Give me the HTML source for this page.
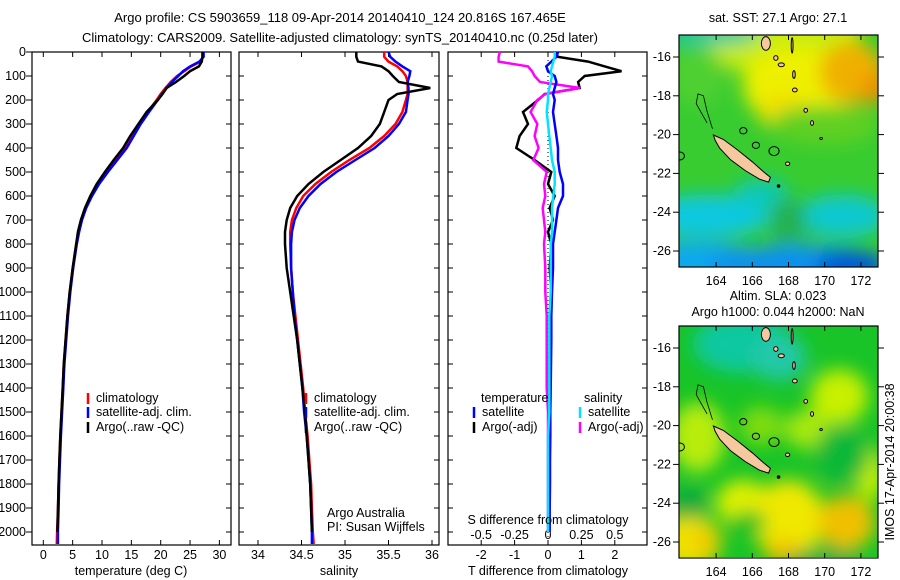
<!DOCTYPE html>
<html><head><meta charset="utf-8">
<style>
html,body{margin:0;padding:0;background:#fff;}
#root{position:relative;width:900px;height:580px;overflow:hidden;font-family:"Liberation Sans",sans-serif;}
svg text{font-family:"Liberation Sans",sans-serif;font-size:12.5px;fill:#000;}
</style></head>
<body>
<div id="root">
<svg id="fig" width="900" height="580" viewBox="0 0 900 580">
<defs>
<filter id="blur" x="-20%" y="-20%" width="140%" height="140%"><feGaussianBlur stdDeviation="9"/></filter>
<clipPath id="clipm1"><rect x="679" y="35" width="199" height="232"/></clipPath>
<clipPath id="clipm2"><rect x="679" y="326" width="199" height="231"/></clipPath>
</defs>
<text x="340" y="22" text-anchor="middle" style="font-size:13px">Argo profile: CS 5903659_118 09-Apr-2014 20140410_124 20.816S 167.465E</text>
<text x="340" y="42" text-anchor="middle" style="font-size:13px">Climatology: CARS2009. Satellite-adjusted climatology: synTS_20140410.nc (0.25d later)</text>
<g id="g1"></g>
<g id="g2"></g>
<g id="g3"></g>
<g id="m1"></g>
<g id="m2"></g>
<text x="778" y="22" text-anchor="middle">sat. SST: 27.1 Argo: 27.1</text>
<text x="778" y="300" text-anchor="middle">Altim. SLA: 0.023</text>
<text x="778" y="316" text-anchor="middle">Argo h1000: 0.044 h2000: NaN</text>
<text transform="translate(894,462) rotate(-90)" text-anchor="middle">IMOS 17-Apr-2014 20:00:38</text>
</svg>
</div>
<script>
// ---- data ----
const depths = [0,20,40,60,80,100,125,150,175,200,250,300,350,400,450,500,550,600,650,700,750,800,900,1000,1100,1200,1300,1400,1500,1600,1700,1800,1900,2000,2050];
const tempClim = [27.2,27.2,26.8,25.2,24.0,22.8,21.7,20.8,20.0,19.3,17.8,16.4,15.2,14.0,12.4,10.8,9.3,8.1,7.2,6.5,6.0,5.6,5.0,4.5,4.1,3.8,3.5,3.3,3.1,2.9,2.75,2.6,2.5,2.35,2.3];
const tempSat  = [27.3,27.3,26.6,25.0,23.8,23.0,21.9,21.0,20.2,19.5,18.0,16.6,15.4,14.2,12.6,11.0,9.5,8.3,7.3,6.6,6.1,5.7,5.1,4.6,4.2,3.9,3.6,3.4,3.2,3.0,2.85,2.7,2.6,2.48,2.48];
const tempArgo = [27.1,27.1,27.0,26.5,25.0,24.0,22.6,21.0,20.3,19.5,17.6,16.2,14.8,13.6,12.0,10.5,9.1,8.0,7.1,6.4,5.9,5.6,5.0,4.5,4.1,3.8,3.5,3.3,3.1,2.9,2.75,2.6,2.5,2.4,null];
const salClim = [35.45,35.45,35.5,35.6,35.66,35.7,35.72,35.72,35.72,35.70,35.66,35.58,35.45,35.28,35.05,34.84,34.66,34.52,34.44,34.39,34.37,34.37,34.38,34.40,34.43,34.46,34.49,34.52,34.54,34.57,34.59,34.61,34.62,34.63,34.64];
const salSat  = [35.5,35.52,35.58,35.66,35.75,35.74,35.72,35.73,35.73,35.72,35.7,35.62,35.5,35.34,35.12,34.9,34.72,34.58,34.48,34.42,34.39,34.38,34.38,34.40,34.42,34.45,34.48,34.51,34.53,34.56,34.58,34.60,34.61,34.62,34.62];
const salArgo = [35.13,35.13,35.15,35.42,35.5,35.55,35.62,35.98,35.6,35.5,35.45,35.4,35.3,35.15,34.95,34.75,34.58,34.45,34.37,34.33,34.31,34.31,34.33,34.37,34.41,34.45,34.48,34.51,34.54,34.56,34.58,34.60,34.61,34.62,null];
const tDiffArgo = [0.2,0.3,1.2,1.7,2.2,1.1,0.9,0.95,-0.1,-0.3,-0.75,-0.6,-0.85,-0.95,-0.4,0.1,0.0,0.2,0.05,0.15,0.0,0.1,0.05,0.1,0.05,0.05,0.04,0.04,0.04,0.04,0.04,0.04,0.04,0.04,null];
const tDiffSat  = [0.3,0.25,0.1,-0.05,0.0,0.2,0.25,0.2,0.15,0.2,0.15,0.2,0.25,0.3,0.3,0.35,0.45,0.45,0.3,0.25,0.2,0.15,0.15,0.12,0.1,0.1,0.09,0.08,0.07,0.07,0.06,0.06,0.05,0.05,null];
const sDiffArgo = [-0.36,-0.37,-0.37,-0.15,-0.12,-0.1,-0.06,0.24,-0.02,-0.08,-0.13,-0.08,-0.1,-0.07,-0.11,-0.01,-0.03,-0.02,-0.04,-0.03,-0.02,-0.03,-0.02,-0.02,-0.01,-0.01,-0.01,-0.01,0,0,0,0,0,0,null];
const sDiffSat  = [0.05,0.05,0.04,0.03,0.02,0.03,0.02,0.01,0.0,0.0,-0.01,0.0,0.01,0.02,0.03,0.05,0.05,0.04,0.03,0.03,0.03,0.02,0.02,0.02,0.01,0.01,0.01,0.01,0.01,0,0,0,0,0,null];
const depthTicks = [0,100,200,300,400,500,600,700,800,900,1000,1100,1200,1300,1400,1500,1600,1700,1800,1900,2000];
const tempTicks = [0,5,10,15,20,25,30];
const salTicks = [34,34.5,35,35.5,36];
const tDiffTicks = [-2,-1,0,1,2];
const sDiffTicks = [-0.5,-0.25,0,0.25,0.5];
const lonTicks = [164,166,168,170,172];
const latTicks = [-16,-18,-20,-22,-24,-26];

const NS='http://www.w3.org/2000/svg';
function mk(tag, attrs, parent){const e=document.createElementNS(NS,tag);for(const k in attrs)e.setAttribute(k,attrs[k]);parent.appendChild(e);return e;}
const yD = d => 52 + d*0.24;
const xT = v => 43.3 + v*5.87;
const xS = v => 258 + (v-34)*87;
const xTd = v => 548 + v*33.4;
const xSd = v => 548 + v*133.6;

function frame(g,x0,x1,name){
  const r=mk('rect',{x:x0,y:52,width:x1-x0,height:493,fill:'none',stroke:'#000','stroke-width':1.2},g);
  
  
}
function xTicks(g,ticks,fx,yl,name,top){
  ticks.forEach(t=>{
    const x=fx(t);
    mk('line',{x1:x,x2:x,y1:545,y2:540,stroke:'#000'},g);
    if(top) mk('line',{x1:x,x2:x,y1:52,y2:57,stroke:'#000'},g);
    if(yl){const tx=mk('text',{x:x,y:yl,'text-anchor':'middle'},g);tx.textContent=String(t);
      
      }
  });
}
function series(g,vals,fx,color,name,w){
  let pts=[];
  vals.forEach((v,i)=>{ if(v!==null) pts.push(fx(v).toFixed(1)+','+yD(depths[i]).toFixed(1)); });
  const p=mk('polyline',{points:pts.join(' '),fill:'none',stroke:color,'stroke-width':w||2.5,'stroke-linejoin':'miter'},g);
  
  
}
function legend(g,x,y,color,label,name){
  mk('line',{x1:x,x2:x,y1:y-9,y2:y+2,stroke:color,'stroke-width':2.5},g);
  const t=mk('text',{x:x+8,y:y},g);t.textContent=label;
  
  
}

// Panel 1
const g1=document.getElementById('g1');
frame(g1,32,231,'temperature-frame');
depthTicks.forEach(d=>{
  const y=yD(d);
  mk('line',{x1:26,x2:32,y1:y,y2:y,stroke:'#000'},g1);
  mk('line',{x1:231,x2:226,y1:y,y2:y,stroke:'#000'},g1);
  const t=mk('text',{x:26,y:y+4,'text-anchor':'end'},g1);t.textContent=String(d);
  
  
});
xTicks(g1,tempTicks,xT,559,'temperature-tick-label',true);
series(g1,tempClim,xT,'#ff0000','temperature-climatology-line');
series(g1,tempSat,xT,'#0000ff','temperature-satellite-line');
series(g1,tempArgo,xT,'#000000','temperature-argo-line');
let tt=mk('text',{x:131,y:575,'text-anchor':'middle'},g1);tt.textContent='temperature (deg C)';


legend(g1,88,402,'#ff0000','climatology','legend-climatology');
legend(g1,88,416,'#0000ff','satellite-adj. clim.','legend-satellite');
legend(g1,88,431,'#000000','Argo(..raw -QC)','legend-argo');

// Panel 2
const g2=document.getElementById('g2');
frame(g2,239,439,'salinity-frame');
depthTicks.forEach(d=>{const y=yD(d);mk('line',{x1:239,x2:244,y1:y,y2:y,stroke:'#000'},g2);mk('line',{x1:439,x2:434,y1:y,y2:y,stroke:'#000'},g2);});
xTicks(g2,salTicks,xS,559,'salinity-tick-label',true);
series(g2,salClim,xS,'#ff0000','salinity-climatology-line');
series(g2,salSat,xS,'#0000ff','salinity-satellite-line');
series(g2,salArgo,xS,'#000000','salinity-argo-line');
tt=mk('text',{x:339,y:575,'text-anchor':'middle'},g2);tt.textContent='salinity';


legend(g2,306,402,'#ff0000','climatology','legend-climatology-2');
legend(g2,306,416,'#0000ff','satellite-adj. clim.','legend-satellite-2');
legend(g2,306,431,'#000000','Argo(..raw -QC)','legend-argo-2');
tt=mk('text',{x:327,y:517},g2);tt.textContent='Argo Australia';


tt=mk('text',{x:327,y:531},g2);tt.textContent='PI: Susan Wijffels';



// Panel 3
const g3=document.getElementById('g3');
frame(g3,448,647,'difference-frame');
depthTicks.forEach(d=>{const y=yD(d);mk('line',{x1:448,x2:453,y1:y,y2:y,stroke:'#000'},g3);mk('line',{x1:647,x2:642,y1:y,y2:y,stroke:'#000'},g3);});
xTicks(g3,tDiffTicks,xTd,559,'t-difference-tick-label',false);
sDiffTicks.forEach(t=>{const x=xSd(t);mk('line',{x1:x,x2:x,y1:52,y2:57,stroke:'#000'},g3);
  const tx=mk('text',{x:x,y:539,'text-anchor':'middle'},g3);tx.textContent=String(t);
  
  });
mk('line',{x1:548,x2:548,y1:52,y2:545,stroke:'#000','stroke-dasharray':'1,3'},g3);
series(g3,tDiffArgo,xTd,'#000000','t-difference-argo-line');
series(g3,sDiffArgo,xSd,'#ff00ff','s-difference-argo-line');
series(g3,tDiffSat,xTd,'#0000ff','t-difference-satellite-line');
series(g3,sDiffSat,xSd,'#00e5ff','s-difference-satellite-line');
tt=mk('text',{x:548,y:524,'text-anchor':'middle'},g3);tt.textContent='S difference from climatology';


tt=mk('text',{x:548,y:575,'text-anchor':'middle'},g3);tt.textContent='T difference from climatology';


tt=mk('text',{x:481,y:402},g3);tt.textContent='temperature';


tt=mk('text',{x:584,y:402},g3);tt.textContent='salinity';


legend(g3,474,416,'#0000ff','satellite','legend-t-satellite');
legend(g3,474,431,'#000000','Argo(-adj)','legend-t-argo');
legend(g3,580,416,'#00e5ff','satellite','legend-s-satellite');
legend(g3,580,431,'#ff00ff','Argo(-adj)','legend-s-argo');

// ---- maps ----
const mapBlobs1 = [
 [167.5,-14.5,4.5,2.6,'#c8ec10'],[168.5,-17.5,3,2,'#eef000'],[167.8,-18.8,1.5,1,'#f0e000'],[171.5,-16.8,1.8,1.6,'#f0b000'],[172.8,-17.6,0.8,0.8,'#f09000'],
 [163.5,-14.8,3,0.6,'#20c8a0'],[163,-17,1.5,1.5,'#50d030'],[170,-19.5,3,1,'#60d020'],
 [163.5,-24.2,3.5,1.1,'#10c8e0'],[171,-24.2,2.5,1.1,'#10c8d0'],[166.5,-23,1.5,0.7,'#10c8b8'],[168,-24.5,1,1.2,'#20b050'],
 [163,-26.5,3.5,1,'#10a8f0'],[168.5,-26.7,5,1,'#1090f0'],[171.5,-26.8,2,0.8,'#0058d8']
];
const mapBlobs2 = [
 [165.5,-15.8,2.8,1.5,'#10c8a0'],[167.5,-16.5,1.5,1.2,'#20c8a8'],[163,-20.6,1.5,1.8,'#b8ec10'],[166.5,-20,1.2,1,'#80dc10'],
 [170.8,-18.5,1.6,1.4,'#c8f000'],[169,-20.2,1.2,1,'#a8e810'],[165.5,-24,1.5,1.2,'#e0f000'],[162.5,-26,1.8,1.4,'#f0e000'],[163.5,-26,0.8,0.6,'#f0c800'],
 [168,-24.8,2,2,'#f0e800'],[167.8,-26.5,1.2,0.6,'#f0c000'],[171.2,-25,1.6,1.4,'#f0c000'],[172.5,-22.5,0.8,1.4,'#c8f000'],
 [162.5,-24,1,0.8,'#10a840'],[165.8,-25,1,0.6,'#10c020'],[170,-27,2,0.6,'#10a840'],[171,-21.5,1.5,1.5,'#10b838']
];
const ncLon=[163.85,164.4,165.2,166.0,166.6,167.0,166.9,166.4,165.6,164.8,164.2,163.95];
const ncLat=[-20.02,-20.25,-20.8,-21.4,-21.9,-22.2,-22.45,-22.3,-21.85,-21.3,-20.7,-20.3];
const islands=[[166.75,-15.3,0.25,0.35],[167.3,-16.05,0.12,0.12],[167.6,-16.4,0.17,0.1],[168.2,-15.4,0.05,0.4],[168.3,-16.9,0.07,0.2],[168.35,-17.7,0.13,0.1],[168.95,-18.75,0.1,0.1],[169.3,-19.4,0.08,0.12],[169.8,-20.2,0.07,0.05],[167.95,-21.5,0.12,0.09]];
function drawMap(gid,top,baseColor,blobs,clip){
  const g=document.getElementById(gid);
  const px=lon=>679+(lon-161.95)*18.1;
  const py=lat=>top+22+(-16-lat)*19.4;
  const inner=mk('g',{'clip-path':'url(#'+clip+')'},g);
  mk('rect',{x:679,y:top,width:199,height:232,fill:baseColor},inner);
  const bg=mk('g',{filter:'url(#blur)'},inner);
  blobs.forEach(b=>{const e=mk('ellipse',{cx:px(b[0]),cy:py(b[1]),rx:b[2]*18.1,ry:b[3]*19.4,fill:b[4]},bg);
    
    });
  const nc=mk('polygon',{points:ncLon.map((l,i)=>px(l).toFixed(1)+','+py(ncLat[i]).toFixed(1)).join(' '),fill:'#f6c8a0',stroke:'#000','stroke-width':1},inner);
  
  
  islands.forEach(s=>mk('ellipse',{cx:px(s[0]),cy:py(s[1]),rx:s[2]*18.1,ry:s[3]*19.4,fill:'#f6c8a0',stroke:'#000','stroke-width':1},inner));
  mk('polyline',{points:[[163.5,-19.4],[163.2,-18.9],[162.9,-18.4],[163.0,-17.9],[163.3,-18.0],[163.5,-18.8],[163.8,-19.7]].map(p=>px(p[0])+','+py(p[1])).join(' '),fill:'none',stroke:'#000','stroke-width':0.8},inner);
  [[165.5,-19.8,0.2],[166.2,-20.55,0.2],[167.2,-20.85,0.28],[162.0,-21.1,0.25]].forEach(c=>mk('ellipse',{cx:px(c[0]),cy:py(c[1]),rx:c[2]*18.1,ry:c[2]*16,fill:'none',stroke:'#000','stroke-width':1},inner));
  mk('circle',{cx:px(167.45),cy:py(-22.65),r:1.8,fill:'#000'},inner);
  const fr=mk('rect',{x:679,y:top,width:199,height:232,fill:'none',stroke:'#000','stroke-width':1.2},g);
  
  
  lonTicks.forEach(l=>{const x=px(l);mk('line',{x1:x,x2:x,y1:top,y2:top+5,stroke:'#000'},g);mk('line',{x1:x,x2:x,y1:top+232,y2:top+227,stroke:'#000'},g);
    const t=mk('text',{x:x,y:top+250,'text-anchor':'middle'},g);t.textContent=String(l);
    
    });
  latTicks.forEach(l=>{const y=py(l);mk('line',{x1:673,x2:679,y1:y,y2:y,stroke:'#000'},g);mk('line',{x1:878,x2:884,y1:y,y2:y,stroke:'#000'},g);
    const t=mk('text',{x:671,y:y+4,'text-anchor':'end'},g);t.textContent=String(l);
    
    });
}
drawMap('m1',35,'#38cc30',mapBlobs1,'clipm1');
drawMap('m2',326,'#18c428',mapBlobs2,'clipm2');
</script>
</body></html>
